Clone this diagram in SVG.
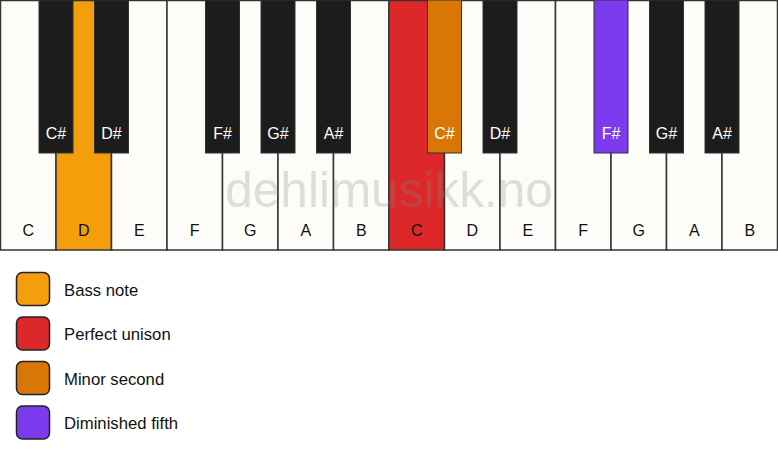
<svg xmlns="http://www.w3.org/2000/svg" width="778" height="461" viewBox="0 0 778 461">
<style>
.w{fill:#fdfcf8;stroke:#333;stroke-width:1.5}
.b{fill:#1c1c1c;stroke:#333;stroke-width:1}
.lw{font-family:"Liberation Sans",Arial,sans-serif;font-size:16px;fill:#111;text-anchor:middle}
.lb{font-family:"Liberation Sans",Arial,sans-serif;font-size:16px;fill:#fff;text-anchor:middle}
.lg{font-family:"Liberation Sans",Arial,sans-serif;font-size:16.7px;fill:#111}
.sw{stroke:#222;stroke-width:1.5}
.wm{font-family:"Liberation Sans",Arial,sans-serif;font-size:49.5px;fill:#888;fill-opacity:0.27;text-anchor:middle}
</style>
<rect width="778" height="461" fill="#ffffff"/>
<g id="white-keys">
<g id="wk-C1"><rect class="w" x="0.5" y="0.5" width="55.5" height="249.5"/><text class="lw" x="28.25" y="236">C</text></g>
<g id="wk-D1"><rect class="w" x="56" y="0.5" width="55.5" height="249.5" style="fill:#f59e0b"/><text class="lw" x="83.75" y="236">D</text></g>
<g id="wk-E1"><rect class="w" x="111.5" y="0.5" width="55.5" height="249.5"/><text class="lw" x="139.25" y="236">E</text></g>
<g id="wk-F1"><rect class="w" x="167" y="0.5" width="55.5" height="249.5"/><text class="lw" x="194.75" y="236">F</text></g>
<g id="wk-G1"><rect class="w" x="222.5" y="0.5" width="55.5" height="249.5"/><text class="lw" x="250.25" y="236">G</text></g>
<g id="wk-A1"><rect class="w" x="278" y="0.5" width="55.5" height="249.5"/><text class="lw" x="305.75" y="236">A</text></g>
<g id="wk-B1"><rect class="w" x="333.5" y="0.5" width="55.5" height="249.5"/><text class="lw" x="361.25" y="236">B</text></g>
<g id="wk-C2"><rect class="w" x="389" y="0.5" width="55.5" height="249.5" style="fill:#dc2828"/><text class="lw" x="416.75" y="236">C</text></g>
<g id="wk-D2"><rect class="w" x="444.5" y="0.5" width="55.5" height="249.5"/><text class="lw" x="472.25" y="236">D</text></g>
<g id="wk-E2"><rect class="w" x="500" y="0.5" width="55.5" height="249.5"/><text class="lw" x="527.75" y="236">E</text></g>
<g id="wk-F2"><rect class="w" x="555.5" y="0.5" width="55.5" height="249.5"/><text class="lw" x="583.25" y="236">F</text></g>
<g id="wk-G2"><rect class="w" x="611" y="0.5" width="55.5" height="249.5"/><text class="lw" x="638.75" y="236">G</text></g>
<g id="wk-A2"><rect class="w" x="666.5" y="0.5" width="55.5" height="249.5"/><text class="lw" x="694.25" y="236">A</text></g>
<g id="wk-B2"><rect class="w" x="722" y="0.5" width="55.5" height="249.5"/><text class="lw" x="749.75" y="236">B</text></g>
</g>
<text class="wm" x="389" y="207">dehlimusikk.no</text>
<g id="black-keys">
<g id="bk-Cs1"><rect class="b" x="39" y="0" width="34" height="153"/><text class="lb" x="56" y="139">C#</text></g>
<g id="bk-Ds1"><rect class="b" x="94.5" y="0" width="34" height="153"/><text class="lb" x="111.5" y="139">D#</text></g>
<g id="bk-Fs1"><rect class="b" x="205.5" y="0" width="34" height="153"/><text class="lb" x="222.5" y="139">F#</text></g>
<g id="bk-Gs1"><rect class="b" x="261" y="0" width="34" height="153"/><text class="lb" x="278" y="139">G#</text></g>
<g id="bk-As1"><rect class="b" x="316.5" y="0" width="34" height="153"/><text class="lb" x="333.5" y="139">A#</text></g>
<g id="bk-Cs2"><rect class="b" x="427.5" y="0" width="34" height="153" style="fill:#d97706"/><text class="lb" x="444.5" y="139">C#</text></g>
<g id="bk-Ds2"><rect class="b" x="483" y="0" width="34" height="153"/><text class="lb" x="500" y="139">D#</text></g>
<g id="bk-Fs2"><rect class="b" x="594" y="0" width="34" height="153" style="fill:#7c3aed"/><text class="lb" x="611" y="139">F#</text></g>
<g id="bk-Gs2"><rect class="b" x="649.5" y="0" width="34" height="153"/><text class="lb" x="666.5" y="139">G#</text></g>
<g id="bk-As2"><rect class="b" x="705" y="0" width="34" height="153"/><text class="lb" x="722" y="139">A#</text></g>
</g>
<g id="connectors"></g>
<g id="legend">
<g id="lg-bass"><rect class="sw" x="16.5" y="272.5" width="33" height="33" rx="6" fill="#f59e0b"/><text class="lg" x="64" y="295.5">Bass note</text></g>
<g id="lg-unison"><rect class="sw" x="16.5" y="317" width="33" height="33" rx="6" fill="#dc2828"/><text class="lg" x="64" y="340">Perfect unison</text></g>
<g id="lg-minor2"><rect class="sw" x="16.5" y="361.5" width="33" height="33" rx="6" fill="#d97706"/><text class="lg" x="64" y="384.5">Minor second</text></g>
<g id="lg-dim5"><rect class="sw" x="16.5" y="406" width="33" height="33" rx="6" fill="#7c3aed"/><text class="lg" x="64" y="429">Diminished fifth</text></g>
</g>
</svg>
